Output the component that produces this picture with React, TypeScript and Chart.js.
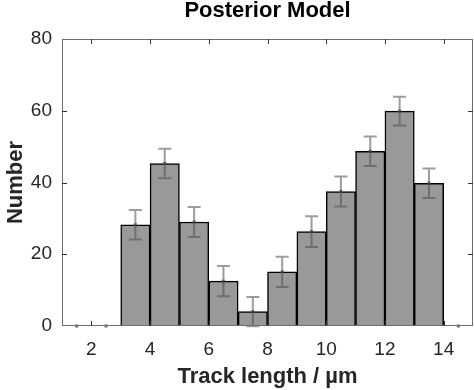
import React, { useEffect, useRef } from "react";
import { Chart, registerables } from "chart.js";

Chart.register(...registerables);

const binCenters = [1.5, 2.5, 3.5, 4.5, 5.5, 6.5, 7.5, 8.5, 9.5, 10.5, 11.5, 12.5, 13.5, 14.5];
const counts = [0, 0, 28.2, 45.3, 29.0, 12.5, 4.0, 15.1, 26.3, 37.5, 48.7, 59.9, 39.8, 0];
const errors = [0, 0, 4.1, 4.1, 4.2, 4.2, 4.1, 4.2, 4.3, 4.2, 4.1, 4.0, 4.1, 0];
const xTickValues = [2, 4, 6, 8, 10, 12, 14];
const yTickValues = [0, 20, 40, 60, 80];
const chartTitle = "Posterior Model";
const xTitle = "Track length / µm";
const yTitle = "Number";

const FONT = "'Liberation Sans', Arial, Helvetica, sans-serif";

const framePlugin = {
  id: "frameAndErrors",
  afterDatasetsDraw(chart: any) {
    const { ctx, chartArea, scales } = chart;
    const xs = scales.x;
    const ys = scales.y;
    ctx.save();
    // error bars
    for (let i = 0; i < binCenters.length; i++) {
      const px = xs.getPixelForValue(binCenters[i]);
      const py = ys.getPixelForValue(counts[i]);
      const e = errors[i];
      if (e > 0) {
        const top = ys.getPixelForValue(counts[i] + e);
        const bot = ys.getPixelForValue(counts[i] - e);
        ctx.strokeStyle = "rgba(76,76,76,0.55)";
        ctx.lineWidth = 2;
        ctx.beginPath();
        ctx.moveTo(px, top);
        ctx.lineTo(px, bot);
        ctx.moveTo(px - 6.5, top);
        ctx.lineTo(px + 6.5, top);
        ctx.moveTo(px - 6.5, bot);
        ctx.lineTo(px + 6.5, bot);
        ctx.stroke();
      }
      ctx.fillStyle = "rgba(70,70,70,0.8)";
      ctx.fillRect(px - 1.5, py - 1.5, 3, 3);
    }
    // frame
    ctx.strokeStyle = "#6e6e6e";
    ctx.lineWidth = 1;
    ctx.strokeRect(chartArea.left + 0.5, chartArea.top + 0.5, chartArea.right - chartArea.left - 1, chartArea.bottom - chartArea.top - 1);
    // inner ticks
    ctx.strokeStyle = "#333";
    ctx.beginPath();
    const tl = 5;
    for (const v of xTickValues) {
      const px = Math.round(xs.getPixelForValue(v)) + 0.5;
      ctx.moveTo(px, chartArea.bottom);
      ctx.lineTo(px, chartArea.bottom - tl);
      ctx.moveTo(px, chartArea.top);
      ctx.lineTo(px, chartArea.top + tl);
    }
    for (const v of yTickValues) {
      if (v === 0 || v === 80) continue;
      const py = Math.round(ys.getPixelForValue(v)) + 0.5;
      ctx.moveTo(chartArea.left, py);
      ctx.lineTo(chartArea.left + tl, py);
      ctx.moveTo(chartArea.right, py);
      ctx.lineTo(chartArea.right - tl, py);
    }
    ctx.stroke();
    // title
    ctx.fillStyle = "#000";
    ctx.font = `bold 22px ${FONT}`;
    ctx.textAlign = "center";
    ctx.textBaseline = "alphabetic";
    ctx.fillText(chartTitle, (chartArea.left + chartArea.right) / 2, 17);
    ctx.restore();
  },
};

export default function App() {
  const ref = useRef<HTMLCanvasElement>(null);
  useEffect(() => {
    document.body.style.margin = "0";
    const barData = binCenters
      .map((x, i) => ({ x, y: counts[i] }))
      .filter((d) => d.y > 0);
    const chart = new Chart(ref.current as HTMLCanvasElement, {
      type: "bar",
      data: {
        datasets: [
          {
            data: barData as any,
            backgroundColor: "#999999",
            borderColor: "#000000",
            borderWidth: 1.5,
            barPercentage: 1,
            categoryPercentage: 1,
          },
        ],
      },
      options: {
        animation: false,
        responsive: false,
        maintainAspectRatio: false,
        layout: { padding: { top: 39, right: 1, left: 0, bottom: 0 } },
        plugins: {
          legend: { display: false },
          tooltip: { enabled: false },
          title: { display: false },
        },
        scales: {
          x: {
            type: "linear",
            min: 1,
            max: 15,
            offset: false,
            grid: { display: false, drawTicks: false },
            border: { display: false },
            afterBuildTicks: (s: any) => {
              s.ticks = xTickValues.map((v) => ({ value: v }));
            },
            afterFit: (s: any) => {
              s.height = 64;
            },
            ticks: {
              font: { family: FONT, size: 19 },
              color: "#262626",
              padding: 12,
              maxRotation: 0,
            },
            title: {
              display: true,
              text: xTitle,
              font: { family: FONT, size: 22, weight: "bold" },
              color: "#262626",
              padding: { top: 0, bottom: 0 },
            },
          },
          y: {
            min: 0,
            max: 80,
            grid: { display: false, drawTicks: false },
            border: { display: false },
            afterBuildTicks: (s: any) => {
              s.ticks = yTickValues.map((v) => ({ value: v }));
            },
            afterFit: (s: any) => {
              s.width = 62;
            },
            ticks: {
              font: { family: FONT, size: 19 },
              color: "#262626",
              padding: 10,
            },
            title: {
              display: true,
              text: yTitle,
              font: { family: FONT, size: 22, weight: "bold" },
              color: "#262626",
              padding: { top: 3, bottom: 0 },
            },
          },
        },
      },
      plugins: [framePlugin],
    });
    return () => chart.destroy();
  }, []);
  return <canvas ref={ref} width={474} height={390} style={{ display: "block", width: 474, height: 390 }} />;
}
